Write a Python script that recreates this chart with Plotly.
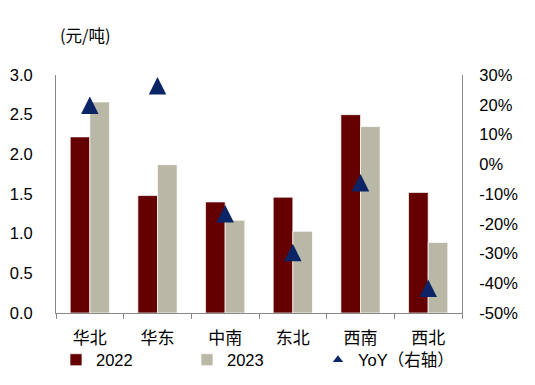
import plotly.graph_objects as go

categories = ["华北", "华东", "中南", "东北", "西南", "西北"]
values_2022 = [2.22, 1.48, 1.40, 1.46, 2.50, 1.52]
values_2023 = [2.66, 1.87, 1.17, 1.03, 2.35, 0.89]
yoy_pct = [19.8, 26.4, -16.6, -29.7, -6.2, -41.7]
left_ticks = [0.0, 0.5, 1.0, 1.5, 2.0, 2.5, 3.0]
right_ticks = [-50, -40, -30, -20, -10, 0, 10, 20, 30]
right_labels = [f"{v}%" for v in right_ticks]

FONT = "Arial, 'Liberation Sans', 'Noto Sans CJK SC', sans-serif"
CJK = "'Noto Sans CJK SC', Arial, sans-serif"
C22, C23, CY = "#640000", "#B9B8A6", "#0B2466"

fig = go.Figure()
fig.add_trace(go.Bar(x=categories, y=values_2022, name="2022",
                     marker=dict(color=C22, line=dict(color="rgba(255,255,255,0.7)", width=1))))
fig.add_trace(go.Bar(x=categories, y=values_2023, name="2023",
                     marker=dict(color=C23, line=dict(color="rgba(255,255,255,0.7)", width=1))))
fig.add_trace(go.Scatter(x=categories, y=yoy_pct, name="YoY（右轴）", yaxis="y2", mode="markers",
                         showlegend=False,
                         marker=dict(symbol="arrow-down", angle=180, standoff=8.75, size=17.5,
                                     color=CY, line=dict(width=0))))
# legend entry for the YoY series (small triangle like the reference legend)
fig.add_trace(go.Scatter(x=[None], y=[None], name="YoY（右轴）", yaxis="y2", mode="markers",
                         marker=dict(symbol="triangle-up", size=9, color=CY, line=dict(width=0))))

fig.update_layout(
    width=535, height=385,
    margin=dict(l=48, r=81, t=67, b=80, autoexpand=False),
    paper_bgcolor="white", plot_bgcolor="white",
    barmode="group", bargap=0.42, bargroupgap=0,
    font=dict(family=FONT, size=16.5, color="black"),
    xaxis=dict(showline=True, linecolor="#888888", linewidth=1, ticks="outside",
               tickson="boundaries", ticklen=5, tickcolor="#888888",
               tickfont=dict(family=CJK, size=17), showgrid=False, zeroline=False,
               ticklabelstandoff=10, automargin=False),
    yaxis=dict(range=[0, 3], tickvals=left_ticks, tickformat=".1f", showline=True,
               linecolor="#888888", linewidth=1, ticks="", showgrid=False, zeroline=False,
               ticklabelstandoff=19, automargin=False),
    yaxis2=dict(range=[-50, 30], tickvals=right_ticks, ticktext=right_labels, overlaying="y",
                side="right", showline=True, linecolor="#888888", linewidth=1, ticks="",
                showgrid=False, zeroline=False, ticklabelstandoff=13, automargin=False),
    legend=dict(orientation="h", xref="container", yref="container",
                x=0.0897, xanchor="left", y=0.0857, yanchor="middle",
                entrywidth=86, entrywidthmode="pixels", bgcolor="rgba(0,0,0,0)",
                font=dict(family=FONT, size=16.5), itemwidth=30, tracegroupgap=0),
    showlegend=True,
    annotations=[dict(text="(元/吨)", xref="paper", yref="paper", x=0.005, y=1.168,
                      xanchor="left", yanchor="middle", showarrow=False,
                      font=dict(family=CJK, size=16.5))],
)

fig.write_html("out.html")
